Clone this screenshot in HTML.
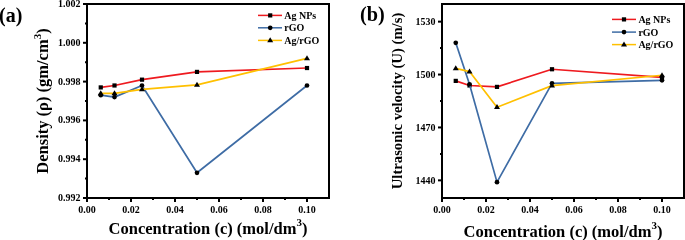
<!DOCTYPE html>
<html><head><meta charset="utf-8"><style>html,body{margin:0;padding:0;background:#fff;overflow:hidden}svg{display:block;will-change:transform}</style></head>
<body><svg width="685" height="240" viewBox="0 0 685 240">
<rect width="685" height="240" fill="#fff"/>
<polyline points="100.75,87.42 114.50,85.48 142.00,79.66 197.00,71.90 307.00,68.02" fill="none" stroke="#ee1a1f" stroke-width="1.7" stroke-linejoin="round"/>
<rect x="98.65" y="85.32" width="4.2" height="4.2" fill="#000"/>
<rect x="112.40" y="83.38" width="4.2" height="4.2" fill="#000"/>
<rect x="139.90" y="77.56" width="4.2" height="4.2" fill="#000"/>
<rect x="194.90" y="69.80" width="4.2" height="4.2" fill="#000"/>
<rect x="304.90" y="65.92" width="4.2" height="4.2" fill="#000"/>
<polyline points="100.75,95.18 114.50,97.12 142.00,85.48 197.00,172.78 307.00,85.48" fill="none" stroke="#3e6ca5" stroke-width="1.7" stroke-linejoin="round"/>
<circle cx="100.75" cy="95.18" r="2.35" fill="#000"/>
<circle cx="114.50" cy="97.12" r="2.35" fill="#000"/>
<circle cx="142.00" cy="85.48" r="2.35" fill="#000"/>
<circle cx="197.00" cy="172.78" r="2.35" fill="#000"/>
<circle cx="307.00" cy="85.48" r="2.35" fill="#000"/>
<polyline points="100.75,93.43 114.50,93.43 142.00,89.36 197.00,84.90 307.00,58.32" fill="none" stroke="#ffc000" stroke-width="1.7" stroke-linejoin="round"/>
<path d="M100.75,90.33L103.75,95.33L97.75,95.33Z" fill="#000"/>
<path d="M114.50,90.33L117.50,95.33L111.50,95.33Z" fill="#000"/>
<path d="M142.00,86.26L145.00,91.26L139.00,91.26Z" fill="#000"/>
<path d="M197.00,81.80L200.00,86.80L194.00,86.80Z" fill="#000"/>
<path d="M307.00,55.22L310.00,60.22L304.00,60.22Z" fill="#000"/>
<path d="M87,4H329V198H87Z" fill="none" stroke="#000" stroke-width="2" stroke-linejoin="miter" stroke-linecap="square"/>
<path d="M87.00,198V202" stroke="#000" stroke-width="2"/>
<text x="87.00" y="212.5" font-size="10" text-anchor="middle" font-family="'Liberation Serif', serif" font-weight="bold">0.00</text>
<path d="M109.00,198V200" stroke="#000" stroke-width="2"/>
<path d="M131.00,198V202" stroke="#000" stroke-width="2"/>
<text x="131.00" y="212.5" font-size="10" text-anchor="middle" font-family="'Liberation Serif', serif" font-weight="bold">0.02</text>
<path d="M153.00,198V200" stroke="#000" stroke-width="2"/>
<path d="M175.00,198V202" stroke="#000" stroke-width="2"/>
<text x="175.00" y="212.5" font-size="10" text-anchor="middle" font-family="'Liberation Serif', serif" font-weight="bold">0.04</text>
<path d="M197.00,198V200" stroke="#000" stroke-width="2"/>
<path d="M219.00,198V202" stroke="#000" stroke-width="2"/>
<text x="219.00" y="212.5" font-size="10" text-anchor="middle" font-family="'Liberation Serif', serif" font-weight="bold">0.06</text>
<path d="M241.00,198V200" stroke="#000" stroke-width="2"/>
<path d="M263.00,198V202" stroke="#000" stroke-width="2"/>
<text x="263.00" y="212.5" font-size="10" text-anchor="middle" font-family="'Liberation Serif', serif" font-weight="bold">0.08</text>
<path d="M285.00,198V200" stroke="#000" stroke-width="2"/>
<path d="M307.00,198V202" stroke="#000" stroke-width="2"/>
<text x="307.00" y="212.5" font-size="10" text-anchor="middle" font-family="'Liberation Serif', serif" font-weight="bold">0.10</text>
<path d="M87,4.00H83" stroke="#000" stroke-width="2"/>
<text x="80.6" y="7.00" font-size="10" text-anchor="end" font-family="'Liberation Serif', serif" font-weight="bold">1.002</text>
<path d="M87,42.80H83" stroke="#000" stroke-width="2"/>
<text x="80.6" y="45.80" font-size="10" text-anchor="end" font-family="'Liberation Serif', serif" font-weight="bold">1.000</text>
<path d="M87,81.60H83" stroke="#000" stroke-width="2"/>
<text x="80.6" y="84.60" font-size="10" text-anchor="end" font-family="'Liberation Serif', serif" font-weight="bold">0.998</text>
<path d="M87,120.40H83" stroke="#000" stroke-width="2"/>
<text x="80.6" y="123.40" font-size="10" text-anchor="end" font-family="'Liberation Serif', serif" font-weight="bold">0.996</text>
<path d="M87,159.20H83" stroke="#000" stroke-width="2"/>
<text x="80.6" y="162.20" font-size="10" text-anchor="end" font-family="'Liberation Serif', serif" font-weight="bold">0.994</text>
<path d="M87,198.00H83" stroke="#000" stroke-width="2"/>
<text x="80.6" y="201.00" font-size="10" text-anchor="end" font-family="'Liberation Serif', serif" font-weight="bold">0.992</text>
<path d="M87,23.40H85" stroke="#000" stroke-width="2"/>
<path d="M87,62.20H85" stroke="#000" stroke-width="2"/>
<path d="M87,101.00H85" stroke="#000" stroke-width="2"/>
<path d="M87,139.80H85" stroke="#000" stroke-width="2"/>
<path d="M87,178.60H85" stroke="#000" stroke-width="2"/>
<text x="208.00" y="234" font-size="16.5" text-anchor="middle" font-family="'Liberation Serif', serif" font-weight="bold">Concentration (c) (mol/dm<tspan dy="-7.6" font-size="11">3</tspan><tspan dy="7.6">)</tspan></text>
<text transform="translate(47.8,101) rotate(-90)" font-size="16.5" text-anchor="middle" font-family="'Liberation Serif', serif" font-weight="bold">Density (ρ) (gm/cm<tspan dy="-7.3" font-size="11">3</tspan><tspan dy="7.3">)</tspan></text>
<polyline points="455.75,80.89 469.50,85.48 497.00,86.89 552.00,69.25 662.00,77.37" fill="none" stroke="#ee1a1f" stroke-width="1.7" stroke-linejoin="round"/>
<rect x="453.65" y="78.79" width="4.2" height="4.2" fill="#000"/>
<rect x="467.40" y="83.38" width="4.2" height="4.2" fill="#000"/>
<rect x="494.90" y="84.79" width="4.2" height="4.2" fill="#000"/>
<rect x="549.90" y="67.15" width="4.2" height="4.2" fill="#000"/>
<rect x="659.90" y="75.27" width="4.2" height="4.2" fill="#000"/>
<polyline points="455.75,42.80 469.50,84.25 497.00,182.13 552.00,83.36 662.00,80.37" fill="none" stroke="#3e6ca5" stroke-width="1.7" stroke-linejoin="round"/>
<circle cx="455.75" cy="42.80" r="2.35" fill="#000"/>
<circle cx="469.50" cy="84.25" r="2.35" fill="#000"/>
<circle cx="497.00" cy="182.13" r="2.35" fill="#000"/>
<circle cx="552.00" cy="83.36" r="2.35" fill="#000"/>
<circle cx="662.00" cy="80.37" r="2.35" fill="#000"/>
<polyline points="455.75,68.37 469.50,71.55 497.00,107.17 552.00,85.66 662.00,75.25" fill="none" stroke="#ffc000" stroke-width="1.7" stroke-linejoin="round"/>
<path d="M455.75,65.27L458.75,70.27L452.75,70.27Z" fill="#000"/>
<path d="M469.50,68.45L472.50,73.45L466.50,73.45Z" fill="#000"/>
<path d="M497.00,104.07L500.00,109.07L494.00,109.07Z" fill="#000"/>
<path d="M552.00,82.56L555.00,87.56L549.00,87.56Z" fill="#000"/>
<path d="M662.00,72.15L665.00,77.15L659.00,77.15Z" fill="#000"/>
<path d="M442,4H684V198H442Z" fill="none" stroke="#000" stroke-width="2" stroke-linejoin="miter" stroke-linecap="square"/>
<path d="M442.00,198V202" stroke="#000" stroke-width="2"/>
<text x="442.00" y="212.5" font-size="10" text-anchor="middle" font-family="'Liberation Serif', serif" font-weight="bold">0.00</text>
<path d="M464.00,198V200" stroke="#000" stroke-width="2"/>
<path d="M486.00,198V202" stroke="#000" stroke-width="2"/>
<text x="486.00" y="212.5" font-size="10" text-anchor="middle" font-family="'Liberation Serif', serif" font-weight="bold">0.02</text>
<path d="M508.00,198V200" stroke="#000" stroke-width="2"/>
<path d="M530.00,198V202" stroke="#000" stroke-width="2"/>
<text x="530.00" y="212.5" font-size="10" text-anchor="middle" font-family="'Liberation Serif', serif" font-weight="bold">0.04</text>
<path d="M552.00,198V200" stroke="#000" stroke-width="2"/>
<path d="M574.00,198V202" stroke="#000" stroke-width="2"/>
<text x="574.00" y="212.5" font-size="10" text-anchor="middle" font-family="'Liberation Serif', serif" font-weight="bold">0.06</text>
<path d="M596.00,198V200" stroke="#000" stroke-width="2"/>
<path d="M618.00,198V202" stroke="#000" stroke-width="2"/>
<text x="618.00" y="212.5" font-size="10" text-anchor="middle" font-family="'Liberation Serif', serif" font-weight="bold">0.08</text>
<path d="M640.00,198V200" stroke="#000" stroke-width="2"/>
<path d="M662.00,198V202" stroke="#000" stroke-width="2"/>
<text x="662.00" y="212.5" font-size="10" text-anchor="middle" font-family="'Liberation Serif', serif" font-weight="bold">0.10</text>
<path d="M442,21.64H438" stroke="#000" stroke-width="2"/>
<text x="435.6" y="24.94" font-size="10" text-anchor="end" font-family="'Liberation Serif', serif" font-weight="bold">1530</text>
<path d="M442,74.55H438" stroke="#000" stroke-width="2"/>
<text x="435.6" y="77.85" font-size="10" text-anchor="end" font-family="'Liberation Serif', serif" font-weight="bold">1500</text>
<path d="M442,127.45H438" stroke="#000" stroke-width="2"/>
<text x="435.6" y="130.75" font-size="10" text-anchor="end" font-family="'Liberation Serif', serif" font-weight="bold">1470</text>
<path d="M442,180.36H438" stroke="#000" stroke-width="2"/>
<text x="435.6" y="183.66" font-size="10" text-anchor="end" font-family="'Liberation Serif', serif" font-weight="bold">1440</text>
<path d="M442,153.91H440" stroke="#000" stroke-width="2"/>
<path d="M442,101.00H440" stroke="#000" stroke-width="2"/>
<path d="M442,48.09H440" stroke="#000" stroke-width="2"/>
<text x="563.00" y="237" font-size="16.5" text-anchor="middle" font-family="'Liberation Serif', serif" font-weight="bold">Concentration (c) (mol/dm<tspan dy="-7.6" font-size="11">3</tspan><tspan dy="7.6">)</tspan></text>
<text transform="translate(402.2,101) rotate(-90)" font-size="14.7" text-anchor="middle" font-family="'Liberation Serif', serif" font-weight="bold">Ultrasonic velocity (U) (m/s)</text>
<path d="M258,15.4H282" stroke="#ee1a1f" stroke-width="1.5"/>
<rect x="268.10" y="13.30" width="4.2" height="4.2" fill="#000"/>
<text x="284.2" y="18.90" font-size="10" font-family="'Liberation Serif', serif" font-weight="bold">Ag NPs</text>
<path d="M258,27.8H282" stroke="#3e6ca5" stroke-width="1.5"/>
<circle cx="270.20" cy="27.80" r="2.35" fill="#000"/>
<text x="284.2" y="31.30" font-size="10" font-family="'Liberation Serif', serif" font-weight="bold">rGO</text>
<path d="M258,40.4H282" stroke="#ffc000" stroke-width="1.5"/>
<path d="M270.20,37.30L273.20,42.30L267.20,42.30Z" fill="#000"/>
<text x="284.2" y="43.90" font-size="10" font-family="'Liberation Serif', serif" font-weight="bold">Ag/rGO</text>
<path d="M612,19.4H636" stroke="#ee1a1f" stroke-width="1.5"/>
<rect x="621.90" y="17.30" width="4.2" height="4.2" fill="#000"/>
<text x="638.4" y="22.90" font-size="10" font-family="'Liberation Serif', serif" font-weight="bold">Ag NPs</text>
<path d="M612,32.1H636" stroke="#3e6ca5" stroke-width="1.5"/>
<circle cx="624.00" cy="32.10" r="2.35" fill="#000"/>
<text x="638.4" y="35.60" font-size="10" font-family="'Liberation Serif', serif" font-weight="bold">rGO</text>
<path d="M612,44.6H636" stroke="#ffc000" stroke-width="1.5"/>
<path d="M624.00,41.50L627.00,46.50L621.00,46.50Z" fill="#000"/>
<text x="638.4" y="48.10" font-size="10" font-family="'Liberation Serif', serif" font-weight="bold">Ag/rGO</text>
<text x="-1" y="21.5" font-size="20" font-family="'Liberation Serif', serif" font-weight="bold">(a)</text>
<text x="360" y="21.4" font-size="20.3" font-family="'Liberation Serif', serif" font-weight="bold">(b)</text>
</svg></body></html>
